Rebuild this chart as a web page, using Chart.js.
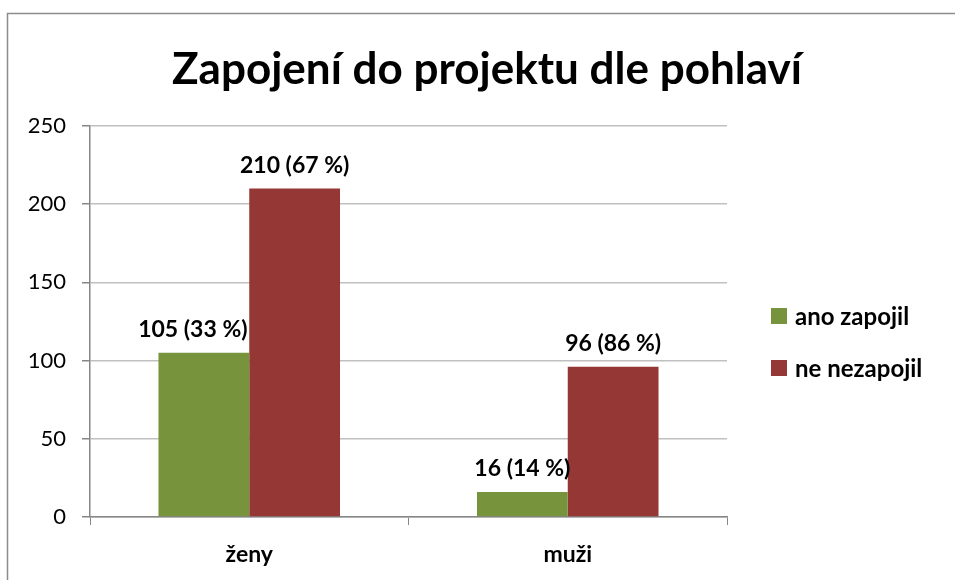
<!DOCTYPE html>
<html>
<head>
<meta charset="utf-8">
<script src="https://cdn.jsdelivr.net/npm/chart.js@4"></script>
<style>
  html, body { margin: 0; padding: 0; background: #fff; overflow: hidden; }
  canvas { display: block; }
</style>
</head>
<body>
<canvas id="chart" width="955" height="580"></canvas>
<script>
const categories = ['ženy', 'muži'];
const seriesNames = ['ano zapojil', 'ne nezapojil'];
const zapojil = [105, 16];
const nezapojil = [210, 96];
const zapojilPct = [33, 14];
const nezapojilPct = [67, 86];
const yTicks = [0, 50, 100, 150, 200, 250];

const FONT = 'Lato, Calibri, "Open Sans", sans-serif';
const GREEN = '#77933C';
const RED = '#953735';

// frame + title + legend + value labels
const decor = {
    id: 'decor',
    beforeDraw(chart) {
        const c = chart.ctx;
        c.save();
        c.fillStyle = '#fff';
        c.fillRect(0, 0, chart.width, chart.height);
        // only left and top edges of the outer frame are in view
        c.strokeStyle = '#8c8c8c';
        c.lineWidth = 1.5;
        c.beginPath();
        c.moveTo(7.5, chart.height);
        c.lineTo(7.5, 13.5);
        c.lineTo(chart.width, 13.5);
        c.stroke();
        c.restore();
    },
    afterDatasetsDraw(chart) {
        const c = chart.ctx;
        c.save();
        // title
        c.fillStyle = '#000';
        c.font = 'bold 44px ' + FONT;
        c.textAlign = 'center';
        c.textBaseline = 'middle';
        c.fillText('Zapojení do projektu dle pohlaví', 487, 70);

        // value labels
        const pcts = [zapojilPct, nezapojilPct];
        c.font = 'bold 23px ' + FONT;
        chart.data.datasets.forEach((ds, i) => {
            chart.getDatasetMeta(i).data.forEach((bar, j) => {
                const txt = ds.data[j] + ' (' + pcts[i][j] + ' %)';
                const dx = (i === 0 && j === 0) ? -11 : 0;
                c.fillText(txt, bar.x + dx, bar.y - 23);
            });
        });

        // legend
        c.textAlign = 'left';
        c.font = 'bold 24px ' + FONT;
        chart.data.datasets.forEach((ds, i) => {
            const y = 316 + i * 52;
            c.fillStyle = ds.backgroundColor;
            c.fillRect(771, y - 8, 16, 16);
            c.fillStyle = '#000';
            c.fillText(ds.label, 795, y + 1);
        });
        c.restore();
    }
};

new Chart(document.getElementById('chart'), {
    type: 'bar',
    data: {
        labels: categories,
        datasets: [
            { label: seriesNames[0], data: zapojil, backgroundColor: GREEN },
            { label: seriesNames[1], data: nezapojil, backgroundColor: RED }
        ]
    },
    options: {
        responsive: false,
        animation: false,
        devicePixelRatio: 1,
        layout: { padding: { left: 0, top: 126, right: 228, bottom: 0 } },
        datasets: { bar: { categoryPercentage: 0.57, barPercentage: 1 } },
        scales: {
            x: {
                afterFit: s => { s.height = 63; },
                grid: { offset: true, drawOnChartArea: false, tickLength: 8, tickColor: '#868686' },
                border: { color: '#868686', width: 1.5 },
                ticks: { color: '#000', padding: 16, font: { family: FONT, size: 23, weight: 'bold' } }
            },
            y: {
                min: 0,
                max: 250,
                afterFit: s => { s.width = 90; },
                afterBuildTicks: s => { s.ticks = yTicks.map(v => ({ value: v })); },
                grid: { color: '#c0c0c0', lineWidth: 1.5, tickLength: 8, tickColor: '#868686' },
                border: { color: '#868686', width: 1.5 },
                ticks: { color: '#000', padding: 16, font: { family: FONT, size: 22 } }
            }
        },
        plugins: {
            legend: { display: false },
            title: { display: false },
            tooltip: { enabled: false }
        }
    },
    plugins: [decor]
});
</script>
</body>
</html>
